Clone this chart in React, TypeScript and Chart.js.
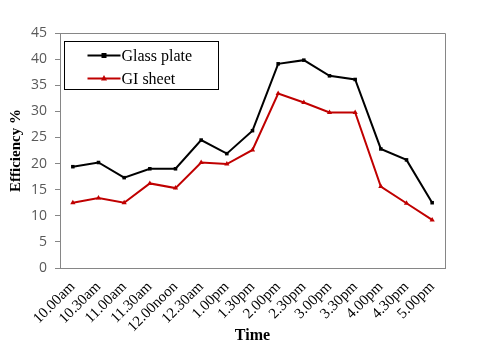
import React, { useEffect, useRef } from "react";
import { Chart, registerables } from "chart.js";

Chart.register(...registerables);

const categories = [
  "10.00am", "10.30am", "11.00am", "11.30am", "12.00noon", "12.30am", "1.00pm",
  "1.30pm", "2.00pm", "2.30pm", "3.00pm", "3.30pm", "4.00pm", "4.30pm", "5.00pm",
];
const glassPlate = [19.4, 20.2, 17.3, 19.0, 19.0, 24.5, 21.9, 26.3, 39.1, 39.8, 36.8, 36.1, 22.8, 20.7, 12.5];
const giSheet = [12.5, 13.4, 12.5, 16.2, 15.3, 20.2, 19.9, 22.6, 33.4, 31.7, 29.8, 29.8, 15.6, 12.4, 9.2];
const seriesNames = ["Glass plate", "GI sheet"];
const yTicksMax = 45;
const yStep = 5;

const AXIS_GRAY = "#868686";
const RED = "#C00000";

const framePlugin = {
  id: "frameAndLegend",
  afterDraw(chart: any) {
    const { ctx, chartArea } = chart;
    const { left, right, top } = chartArea;
    ctx.save();
    ctx.strokeStyle = AXIS_GRAY;
    ctx.lineWidth = 1;
    ctx.beginPath();
    ctx.moveTo(left, Math.round(top) + 0.5);
    ctx.lineTo(Math.round(right) + 0.5, Math.round(top) + 0.5);
    ctx.lineTo(Math.round(right) + 0.5, chartArea.bottom);
    ctx.stroke();

    const bx = Math.round(left) + 4.5;
    const by = Math.round(top) + 8.5;
    const bw = 154;
    const bh = 48;
    ctx.fillStyle = "#ffffff";
    ctx.fillRect(bx, by, bw, bh);
    ctx.strokeStyle = "#000000";
    ctx.strokeRect(bx, by, bw, bh);

    const rows = [
      { name: seriesNames[0], color: "#000000", marker: "rect", y: by + 14 },
      { name: seriesNames[1], color: RED, marker: "triangle", y: by + 37 },
    ];
    ctx.font = "16px 'Liberation Serif', serif";
    ctx.textBaseline = "middle";
    ctx.textAlign = "left";
    for (const r of rows) {
      const x0 = bx + 23;
      const x1 = bx + 56;
      ctx.strokeStyle = r.color;
      ctx.lineWidth = 2;
      ctx.beginPath();
      ctx.moveTo(x0, r.y);
      ctx.lineTo(x1, r.y);
      ctx.stroke();
      const mx = (x0 + x1) / 2;
      ctx.fillStyle = r.color;
      if (r.marker === "rect") {
        ctx.fillRect(mx - 2.5, r.y - 2.5, 5, 5);
      } else {
        ctx.beginPath();
        ctx.moveTo(mx, r.y - 3.5);
        ctx.lineTo(mx + 3, r.y + 2);
        ctx.lineTo(mx - 3, r.y + 2);
        ctx.closePath();
        ctx.fill();
      }
      ctx.fillStyle = "#000000";
      ctx.fillText(r.name, x1 + 1, r.y + 1);
    }
    ctx.restore();
  },
};

export default function App() {
  const ref = useRef<HTMLCanvasElement | null>(null);
  useEffect(() => {
    document.body.style.margin = "0";
    const canvas = ref.current;
    if (!canvas) return;
    const chart = new Chart(canvas, {
      type: "line",
      data: {
        labels: categories,
        datasets: [
          {
            label: seriesNames[0],
            data: glassPlate,
            borderColor: "#000000",
            backgroundColor: "#000000",
            borderWidth: 2,
            pointStyle: "rect",
            pointRadius: 2.5,
            pointBorderWidth: 0,
            tension: 0,
          },
          {
            label: seriesNames[1],
            data: giSheet,
            borderColor: RED,
            backgroundColor: RED,
            borderWidth: 2,
            pointStyle: "triangle",
            pointRadius: 3,
            pointBorderWidth: 0,
            tension: 0,
          },
        ],
      },
      options: {
        responsive: false,
        animation: false,
        devicePixelRatio: 1,
        layout: { padding: { top: 33, right: 35, left: 0, bottom: 0 } },
        plugins: {
          legend: { display: false },
          tooltip: { enabled: false },
        },
        scales: {
          x: {
            type: "category",
            offset: true,
            grid: { display: false },
            border: { display: true, color: AXIS_GRAY, width: 1 },
            ticks: {
              autoSkip: false,
              maxRotation: 45,
              minRotation: 45,
              padding: 2,
              color: "#000000",
              font: { family: "'Liberation Serif', serif", size: 15 },
            },
            title: {
              display: true,
              text: "Time",
              color: "#000000",
              font: { family: "'Liberation Serif', serif", size: 16, weight: "bold" },
              padding: { top: 0, bottom: 4 },
            },
            afterFit: (s: any) => {
              s.height = 81;
            },
          },
          y: {
            min: 0,
            max: yTicksMax,
            ticks: {
              stepSize: yStep,
              padding: 8,
              color: "#595959",
              font: { family: "'Open Sans', sans-serif", size: 14 },
            },
            grid: {
              display: true,
              drawOnChartArea: false,
              drawTicks: true,
              tickLength: 5,
              color: AXIS_GRAY,
            },
            border: { display: true, color: AXIS_GRAY, width: 1 },
            title: {
              display: true,
              text: "Efficiency %",
              color: "#000000",
              font: { family: "'Liberation Serif', serif", size: 15, weight: "bold" },
              padding: { top: 7, bottom: 0 },
            },
            afterFit: (s: any) => {
              s.width = 60;
            },
          },
        },
      },
      plugins: [framePlugin],
    });
    return () => chart.destroy();
  }, []);
  return (
    <div style={{ width: 480, height: 349 }}>
      <canvas ref={ref} width={480} height={349} />
    </div>
  );
}
